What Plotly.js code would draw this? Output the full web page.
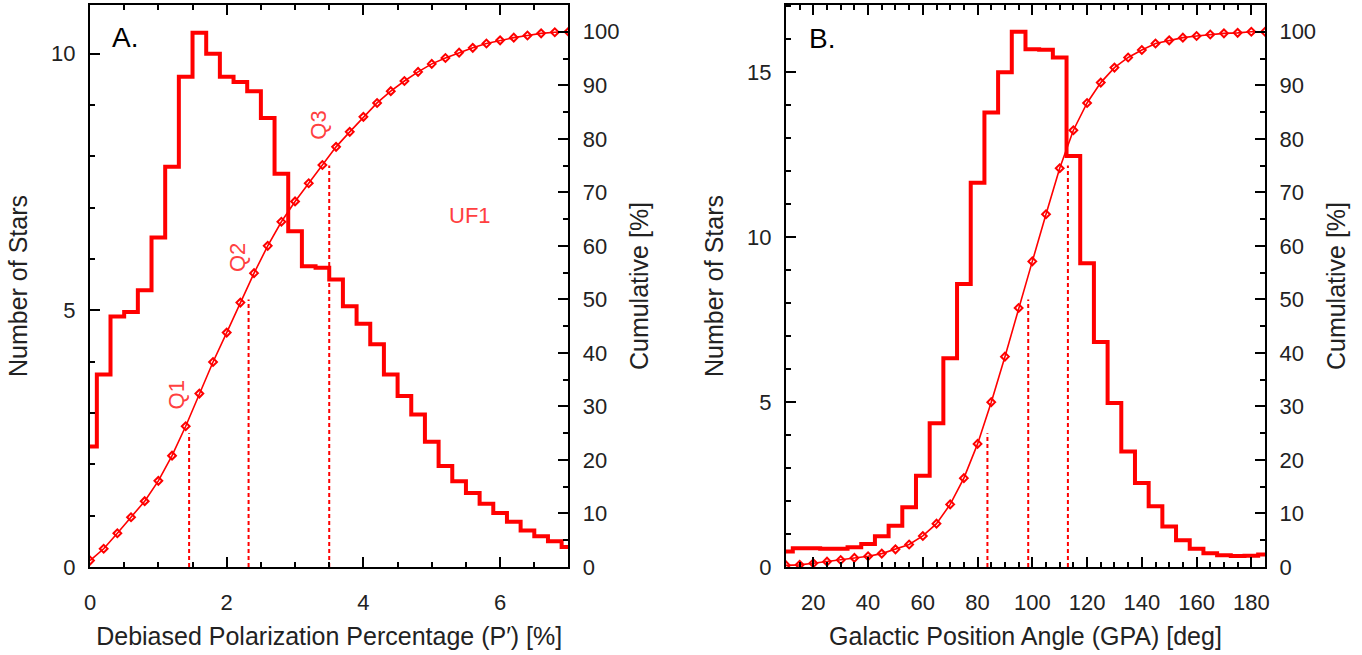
<!DOCTYPE html>
<html><head><meta charset="utf-8">
<script src="https://cdn.plot.ly/plotly-3.0.1.min.js"></script>
<style>html,body{margin:0;padding:0;background:#fff;} #chart{width:1362px;height:655px;}</style>
</head><body><div id="chart"></div><script>
// Panel A: debiased polarization percentage
const pBins = [0,0.2,0.4,0.6,0.8,1.0,1.2,1.4,1.6,1.8,2.0,2.2,2.4,2.6,2.8,3.0,3.2,3.4,3.6,3.8,4.0,4.2,4.4,4.6,4.8,5.0,5.2,5.4,5.6,5.8,6.0,6.2,6.4,6.6,6.8,7.0];
const pCounts = [2.35,3.75,4.88,4.97,5.39,6.42,7.80,9.55,10.41,10.00,9.55,9.45,9.27,8.75,7.66,6.54,5.86,5.83,5.60,5.08,4.74,4.34,3.75,3.33,2.97,2.44,1.97,1.67,1.44,1.23,1.05,0.88,0.71,0.60,0.50,0.39];
const pCum = [1.2,3.4,6.3,9.3,12.3,16.1,20.8,26.3,32.4,38.3,43.8,49.4,54.9,60.0,64.5,68.3,71.7,75.1,78.5,81.3,84.1,86.7,88.9,90.8,92.5,94.0,95.1,96.1,97.0,97.8,98.4,98.9,99.3,99.7,99.9,100.0];
const pQuart = [1.45,2.32,3.50];
// Panel B: galactic position angle
const gBins = [10,15,20,25,30,35,40,45,50,55,60,65,70,75,80,85,90,95,100,105,110,115,120,125,130,135,140,145,150,155,160,165,170,175,180,185];
const gCounts = [0.47,0.57,0.57,0.55,0.55,0.60,0.70,0.93,1.25,1.81,2.77,4.36,6.33,8.58,11.65,13.78,15.00,16.23,15.70,15.68,15.45,12.46,9.21,6.82,4.97,3.50,2.55,1.84,1.23,0.81,0.55,0.42,0.36,0.33,0.34,0.38];
const gCum = [0.3,0.4,0.7,1.0,1.3,1.7,2.0,2.5,3.3,4.2,5.8,8.1,11.7,16.6,23.0,30.8,39.3,48.4,57.1,65.9,74.5,81.6,86.7,90.5,93.3,95.2,96.6,97.8,98.4,98.9,99.2,99.5,99.7,99.8,100.0,100.0];
const gQuart = [83.6,98.5,113.0];
const quartPct = [25,50,75];
const quartLabels = ['Q1','Q2','Q3'];

const RED = '#ff0000';
const FONT = 'Liberation Sans, Arial, Helvetica, sans-serif';
const traces = [];
function panel(xs, counts, cum, quart, xa, ya, ya2){
  traces.push({x:xs, y:counts, xaxis:xa, yaxis:ya, type:'scatter', mode:'lines',
    line:{shape:'hvh', color:RED, width:4}, hoverinfo:'x+y', showlegend:false});
  traces.push({x:xs, y:cum, xaxis:xa, yaxis:ya2, type:'scatter', mode:'lines+markers',
    line:{color:RED, width:1.6}, marker:{symbol:'diamond-open', size:6, color:RED, line:{color:RED, width:2}},
    showlegend:false});
  quart.forEach((q,i)=>{
    traces.push({x:[q,q], y:[0,quartPct[i]], xaxis:xa, yaxis:ya2, type:'scatter', mode:'lines',
      line:{color:RED, width:2, dash:'4px,3px'}, showlegend:false, hoverinfo:'skip'});
  });
}
panel(pBins, pCounts, pCum, pQuart, 'x', 'y', 'y2');
panel(gBins, gCounts, gCum, gQuart, 'x2', 'y3', 'y4');

const tickFont = {family:FONT, size:22, color:'#222'};
const titleFont = {family:FONT, size:25, color:'#222'};
function axisBase(){
  return {showline:true, linecolor:'black', linewidth:2, ticks:'inside', ticklen:10, tickwidth:2,
    tickcolor:'black', showgrid:false, zeroline:false, tickfont:tickFont, automargin:false};
}
const xL = Object.assign(axisBase(), {domain:[0,0.4072], range:[0,7], anchor:'y', mirror:'ticks',
  tick0:0, dtick:2, minor:{dtick:0.5, ticks:'inside', ticklen:5, tickwidth:2, tickcolor:'black'},
  ticklabelstandoff:15, title:{text:'Debiased Polarization Percentage (P′) [%]', font:titleFont, standoff:13}});
const xR = Object.assign(axisBase(), {domain:[0.5923,1], range:[10,185], anchor:'y3', mirror:'ticks',
  tick0:0, dtick:20, minor:{dtick:5, ticks:'inside', ticklen:5, tickwidth:2, tickcolor:'black'},
  ticklabelstandoff:15, title:{text:'Galactic Position Angle (GPA) [deg]', font:titleFont, standoff:13}});
const yL = Object.assign(axisBase(), {domain:[0,1], range:[0,10.95], anchor:'x', side:'left',
  tick0:0, dtick:5, minor:{dtick:1, ticks:'inside', ticklen:5, tickwidth:2, tickcolor:'black'},
  ticklabelstandoff:8, title:{text:'Number of Stars', font:titleFont, standoff:16}});
const yL2 = Object.assign(axisBase(), {range:[0,105], anchor:'x', overlaying:'y', side:'right',
  tick0:0, dtick:10, minor:{dtick:5, ticks:'inside', ticklen:5, tickwidth:2, tickcolor:'black'},
  ticklabelstandoff:8, title:{text:'Cumulative [%]', font:titleFont, standoff:12}});
const yR = Object.assign(axisBase(), {domain:[0,1], range:[0,17.04], anchor:'x2', side:'left',
  tick0:0, dtick:5, minor:{dtick:1, ticks:'inside', ticklen:5, tickwidth:2, tickcolor:'black'},
  ticklabelstandoff:8, title:{text:'Number of Stars', font:titleFont, standoff:16}});
const yR2 = Object.assign(axisBase(), {range:[0,105], anchor:'x2', overlaying:'y3', side:'right',
  tick0:0, dtick:10, minor:{dtick:5, ticks:'inside', ticklen:5, tickwidth:2, tickcolor:'black'},
  ticklabelstandoff:8, title:{text:'Cumulative [%]', font:titleFont, standoff:12}});

const annFont = {family:FONT, size:22, color:'#ff4040'};
const qPos = [[1.27,32.2],[2.15,57.9],[3.34,82.5]];
const annotations = quartLabels.map((t,i)=>({text:t, x:qPos[i][0], y:qPos[i][1], xref:'x', yref:'y2',
  showarrow:false, textangle:-90, xanchor:'center', yanchor:'middle', font:annFont}));
annotations.push({text:'UF1', x:5.56, y:65.6, xref:'x', yref:'y2', showarrow:false,
  xanchor:'center', yanchor:'middle', font:annFont});
annotations.push({text:'A.', x:0.073, y:0.943, xref:'x domain', yref:'y domain', showarrow:false,
  xanchor:'center', yanchor:'middle', font:{family:FONT, size:28, color:'black'}});
annotations.push({text:'B.', x:0.0745, y:0.941, xref:'x2 domain', yref:'y3 domain', showarrow:false,
  xanchor:'center', yanchor:'middle', font:{family:FONT, size:28, color:'black'}});

const layout = {
  width:1362, height:655, margin:{l:90, r:97, t:5, b:88},
  paper_bgcolor:'white', plot_bgcolor:'white', showlegend:false,
  font:{family:FONT, color:'#222'},
  xaxis:xL, yaxis:yL, yaxis2:yL2, xaxis2:xR, yaxis3:yR, yaxis4:yR2,
  annotations:annotations
};
Plotly.newPlot('chart', traces, layout, {displayModeBar:false, staticPlot:true});
</script></body></html>
